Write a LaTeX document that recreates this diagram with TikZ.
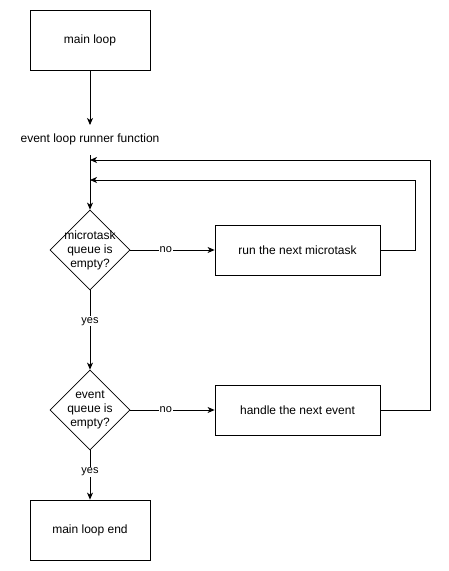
\documentclass[tikz,border=0pt]{standalone}
\usepackage{fontspec}
\setmainfont{Liberation Sans}
\usetikzlibrary{arrows.meta,shapes.geometric}
\begin{document}
\begin{tikzpicture}[x=1pt,y=-1pt,
  box/.style={draw,line width=0.8pt,minimum width=120pt,minimum height=60pt,inner sep=0pt,font=\fontsize{12}{14}\selectfont},
  wbox/.style={draw,line width=0.8pt,minimum width=165pt,minimum height=50pt,inner sep=0pt,font=\fontsize{12}{14}\selectfont},
  dia/.style={draw,line width=0.8pt,diamond,minimum width=80pt,minimum height=80pt,inner sep=0pt,aspect=1},
  diatext/.style={inner sep=0pt,font=\fontsize{12}{14}\selectfont,align=center},
  conn/.style={line width=0.8pt,-{Stealth[length=7pt,width=6pt,inset=2pt]}},
  lbl/.style={fill=white,inner sep=1pt,font=\fontsize{11}{13}\selectfont}]
\useasboundingbox (0,0) rectangle (449,571);
\node[box] (main) at (90,40) {main loop};
\node[font=\fontsize{12}{14}\selectfont,inner sep=0pt] (runner) at (90,139) {event loop runner function};
\node[dia] (d1) at (90,250) {};
\node[diatext] (d1t) at (90,250) {microtask\\queue is\\empty?};
\node[wbox] (micro) at (297.5,250) {run the next microtask};
\node[dia] (d2) at (90,410) {};
\node[diatext] (d2t) at (90,410) {event\\queue is\\empty?};
\node[wbox] (event) at (297.5,410) {handle the next event};
\node[box] (end) at (90,530) {main loop end};
\coordinate (top) at (90,155);
\coordinate (j1) at (90,160);
\coordinate (j2) at (90,180);
\draw[conn] (main.south) -- (90,125);
\draw[conn] (top) -- (d1.north);
\draw[conn] (d1.east) -- node[lbl,pos=0.42]{no} (micro.west);
\draw[conn] (d1.south) -- node[lbl,pos=0.39]{yes} (d2.north);
\draw[conn] (d2.east) -- node[lbl,pos=0.42]{no} (event.west);
\draw[conn] (d2.south) -- node[lbl,pos=0.44]{yes} (end.north);
\draw[conn] (micro.east) -- (415,250) -- (415,180) -- (j2);
\draw[conn] (event.east) -- (430,410) -- (430,160) -- (j1);
\end{tikzpicture}
\end{document}
